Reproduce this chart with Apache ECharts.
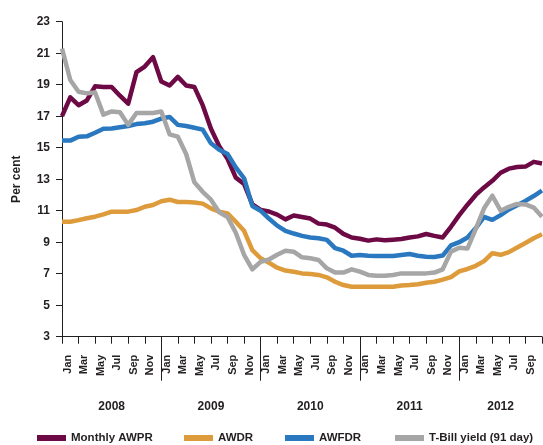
<!DOCTYPE html>
<html>
<head>
<meta charset="utf-8">
<title>Interest rates</title>
<script src="https://cdn.jsdelivr.net/npm/echarts@6.0.0/dist/echarts.min.js"></script>
<style>
  html, body { margin: 0; padding: 0; background: #fff; }
  #chart { width: 543px; height: 445px; }
</style>
</head>
<body>
<div id="chart"></div>
<script>
// axis categories: Jan 2008 .. Nov 2012
const monthNames = ['Jan', 'Feb', 'Mar', 'Apr', 'May', 'Jun', 'Jul', 'Aug', 'Sep', 'Oct', 'Nov', 'Dec'];
const yearNames = ['2008', '2009', '2010', '2011', '2012'];
const monthCount = 59;

// y axis ticks
const yMin = 3;
const yMax = 23;
const yStep = 2;

// series (per cent)
const monthlyAwpr = [
  17.0, 18.2, 17.7, 18.0, 18.9, 18.85, 18.85, 18.3, 17.8, 19.8, 20.15, 20.75,
  19.2, 18.95, 19.5, 18.95, 18.85, 17.7, 16.2, 15.1, 14.3, 13.1, 12.7, 11.4,
  11.05, 10.95, 10.75, 10.45, 10.7, 10.6, 10.5, 10.18, 10.12, 9.92, 9.53, 9.3,
  9.22, 9.1, 9.18, 9.12, 9.16, 9.2, 9.3, 9.37, 9.52, 9.4, 9.3, 9.98,
  10.72, 11.38, 12.0, 12.48, 12.9, 13.41, 13.67, 13.77, 13.8, 14.1, 14.0
];
const awdr = [
  10.3, 10.3, 10.4, 10.52, 10.62, 10.77, 10.94, 10.94, 10.94, 11.04, 11.25, 11.36,
  11.6, 11.7, 11.55, 11.55, 11.52, 11.45, 11.15, 10.94, 10.83, 10.3, 9.72, 8.5,
  7.98, 7.7, 7.38, 7.2, 7.12, 7.02, 6.98, 6.92, 6.77, 6.49, 6.28, 6.17,
  6.17, 6.17, 6.17, 6.17, 6.17, 6.25, 6.28, 6.33, 6.43, 6.49, 6.62, 6.78,
  7.15, 7.3, 7.5, 7.8, 8.3, 8.2, 8.37, 8.66, 8.95, 9.25, 9.5
];
const awfdr = [
  15.45, 15.45, 15.7, 15.72, 15.95, 16.2, 16.22, 16.3, 16.38, 16.5, 16.55, 16.65,
  16.85, 16.95, 16.45, 16.38, 16.27, 16.15, 15.28, 14.87, 14.6, 13.75, 13.06, 11.3,
  11.0, 10.5, 10.05, 9.72, 9.55, 9.4, 9.3, 9.25, 9.15, 8.62, 8.46, 8.14,
  8.19, 8.14, 8.12, 8.12, 8.12, 8.19, 8.25, 8.14, 8.08, 8.06, 8.15, 8.8,
  9.0, 9.3, 9.9, 10.6, 10.42, 10.72, 11.08, 11.35, 11.62, 11.93, 12.28
];
const tBill = [
  21.3, 19.3, 18.55, 18.45, 18.5, 17.1, 17.3, 17.25, 16.45, 17.2, 17.2, 17.2,
  17.3, 15.85, 15.7, 14.6, 12.8, 12.2, 11.7, 10.9, 10.6, 9.6, 8.2, 7.28,
  7.75, 7.9, 8.2, 8.46, 8.4, 8.04, 7.98, 7.87, 7.34, 7.07, 7.07, 7.28,
  7.13, 6.92, 6.87, 6.87, 6.92, 7.02, 7.02, 7.02, 7.02, 7.07, 7.28, 8.4,
  8.65, 8.6, 9.85, 11.15, 11.95, 11.0, 11.25, 11.43, 11.4, 11.2, 10.62
];

const seriesNames = ['Monthly AWPR', 'AWDR', 'AWFDR', 'T-Bill yield (91 day)'];
const seriesColors = ['#6d0a46', '#de9b3c', '#2a78bf', '#a6a6a6'];
const seriesData = [monthlyAwpr, awdr, awfdr, tBill];
const legendLeft = [37, 184, 285, 395];

const categories = [];
yearNames.forEach(function (y) {
  monthNames.forEach(function (m) { categories.push(m + ' ' + y); });
});
const monthCats = categories.slice(0, monthCount);

const ink = '#231f20';
const textFont = "'Liberation Sans', sans-serif";

const chart = echarts.init(document.getElementById('chart'));

const option = {
  animation: false,
  grid: { left: 62, right: 1, top: 21.7, bottom: 108.3, containLabel: false },
  // one legend per item so each sits where the original puts it
  legend: seriesNames.map(function (name, k) {
    return {
      data: [name],
      left: legendLeft[k],
      top: 432,
      padding: 0,
      icon: 'rect',
      itemWidth: 29,
      itemHeight: 6,
      textStyle: { color: ink, fontSize: 11.5, fontWeight: 'bold', fontFamily: textFont }
    };
  }),
  xAxis: [
    {
      // months
      type: 'category',
      data: monthCats,
      boundaryGap: false,
      axisLine: { lineStyle: { color: ink, width: 1 } },
      axisTick: { interval: 1, length: 7, lineStyle: { color: ink } },
      axisLabel: {
        interval: function (idx) { return idx % 2 === 0 && idx < monthCount - 1; },
        rotate: 90,
        margin: 18,
        verticalAlign: 'top',
        color: ink,
        fontSize: 11,
        fontWeight: 'bold',
        fontFamily: textFont,
        formatter: function (v) { return v.split(' ')[0]; }
      }
    },
    {
      // years, with long separators
      type: 'category',
      data: monthCats,
      boundaryGap: false,
      position: 'bottom',
      axisLine: { show: false },
      axisTick: {
        interval: function (idx) { return idx > 0 && idx % 12 === 0; },
        length: 44,
        lineStyle: { color: ink }
      },
      axisLabel: {
        interval: function (idx) { return idx % 12 === 6 || idx === 53; },
        margin: 64,
        color: ink,
        fontSize: 12,
        fontWeight: 'bold',
        fontFamily: textFont,
        formatter: function (v) { return v.split(' ')[1]; }
      }
    }
  ],
  yAxis: {
    type: 'value',
    min: yMin,
    max: yMax,
    interval: yStep,
    name: 'Per cent',
    nameLocation: 'middle',
    nameGap: 39,
    nameTextStyle: { color: ink, fontSize: 12, fontWeight: 'bold', fontFamily: textFont },
    axisLine: { show: true, lineStyle: { color: ink, width: 1 } },
    axisTick: { show: true, length: 6, lineStyle: { color: ink } },
    splitLine: { show: false },
    axisLabel: { margin: 12, color: ink, fontSize: 12, fontWeight: 'bold', fontFamily: textFont }
  },
  series: seriesNames.map(function (name, k) {
    return {
      name: name,
      type: 'line',
      data: seriesData[k],
      symbol: 'none',
      color: seriesColors[k],
      lineStyle: { width: 4.5, color: seriesColors[k], join: 'round' }
    };
  })
};

chart.setOption(option);
</script>
</body>
</html>
